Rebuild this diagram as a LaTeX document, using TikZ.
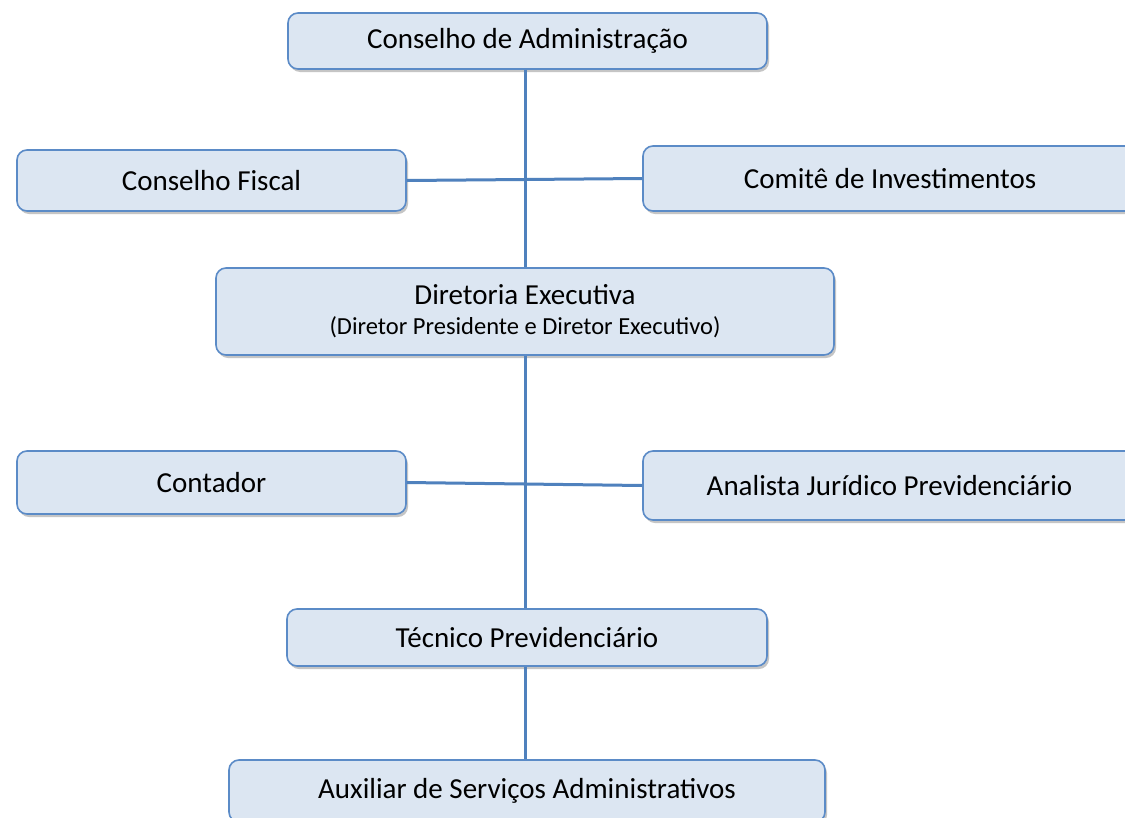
\documentclass[tikz,border=0pt]{standalone}
\usepackage{fontspec}
\setmainfont{Carlito}
\usetikzlibrary{shadows}
\definecolor{boxfill}{HTML}{DCE6F2}
\definecolor{boxline}{HTML}{5B8BC7}
\definecolor{conn}{HTML}{4F81BD}
\tikzset{
  orgbox/.style={draw=boxline, line width=1.6pt, fill=boxfill, rounded corners=10pt,
    inner sep=0pt, align=center, font=\fontsize{29}{33}\selectfont,
    general shadow={shadow xshift=2pt, shadow yshift=-3pt, fill=black!45, opacity=.5}},
  subline/.style={font=\fontsize{25}{28}\selectfont},
  link/.style={draw=conn, line width=3pt}
}
\begin{document}
\begin{tikzpicture}[x=1pt,y=-1pt]
\useasboundingbox (0,0) rectangle (1125,817);
\clip (0,0) rectangle (1125,817);
\fill[white] (0,0) rectangle (1125,817);
% boxes
\node[orgbox, minimum width=479, minimum height=56] (ca) at (527.5,41) {Conselho de Administração};
\node[orgbox, minimum width=389, minimum height=61] (cf) at (211.5,180.5) {Conselho Fiscal};
\node[orgbox, minimum width=494, minimum height=65] (ci) at (890,178.5) {Comitê de Investimentos};
\node[orgbox, minimum width=618, minimum height=87] (de) at (525,311.5)
  {Diretoria Executiva\\[-3pt]{\fontsize{24.5}{28}\selectfont (Diretor Presidente e Diretor Executivo)}};
\node[orgbox, minimum width=389, minimum height=63] (co) at (211.5,482.5) {Contador};
\node[orgbox, minimum width=493, minimum height=69] (aj) at (889.5,485.5) {Analista Jurídico Previdenciário};
\node[orgbox, minimum width=480, minimum height=57] (tp) at (527,637.5) {Técnico Previdenciário};
\node[orgbox, minimum width=596, minimum height=62] (ax) at (527,791) {Auxiliar de Serviços Administrativos};
% connectors
\draw[link] (ca.south -| de.north) -- (de.north);
\draw[link] (de.south) -- (tp.north -| de.south);
\draw[link] (tp.south -| de.south) -- (ax.north -| de.south);
\draw[link] (cf.east) -- (ci.west);
\draw[link] (co.east) -- (aj.west);
% redraw boxes over the horizontal links
\begin{scope}
\end{scope}
\end{tikzpicture}
\end{document}
